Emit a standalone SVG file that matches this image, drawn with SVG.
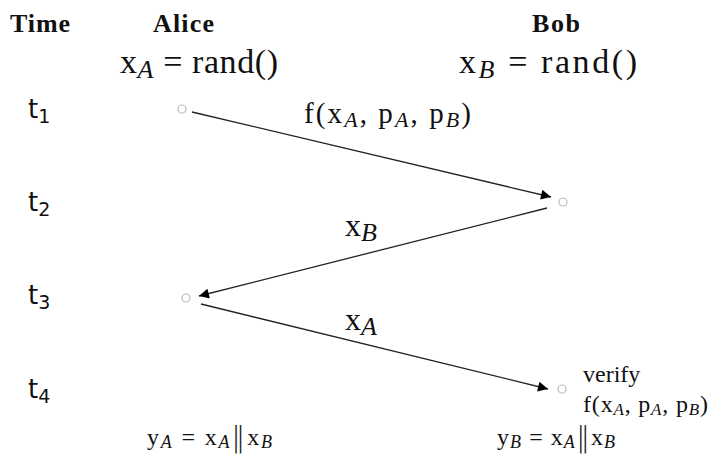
<svg xmlns="http://www.w3.org/2000/svg" width="710" height="457" viewBox="0 0 710 457">
<defs>
<marker id="ah" viewBox="0 0 10 10" refX="10" refY="5" markerWidth="18" markerHeight="10" markerUnits="userSpaceOnUse" orient="auto">
<path d="M0,0 L10,5 L0,10 z" fill="#000"/>
</marker>
</defs>
<style>
text{font-family:"Liberation Serif","Times New Roman",serif;fill:#111}
.hd{font-weight:bold;font-size:26px}
.eq{font-size:34px}
.t{font-family:"DejaVu Sans","Noto Sans",sans-serif;font-size:26px}
.lb{font-size:29px}
.big{font-size:32px}
.sm{font-size:24px}
.sub{font-style:italic}
.bar{font-family:"DejaVu Sans",sans-serif;font-size:28px;font-weight:200}
.node{fill:#fff;stroke:#bbb;stroke-width:1.2}
.conn{stroke:#222;stroke-width:1.3;fill:none;marker-end:url(#ah)}
</style>
<rect width="710" height="457" fill="#fff"/>
<g id="headers">
<text class="hd" x="10" y="32" textLength="60">Time</text>
<text class="hd" x="153" y="32" textLength="61">Alice</text>
<text class="hd" x="532" y="32" textLength="48">Bob</text>
<text class="eq" x="120" y="73" textLength="158">x<tspan class="sub" font-size="26" dy="5">A</tspan><tspan dy="-5"> = rand()</tspan></text>
<text class="eq" x="459" y="73" textLength="178">x<tspan class="sub" font-size="26" dy="5">B</tspan><tspan dy="-5"> = rand()</tspan></text>
</g>
<g id="times">
<text class="t" x="28" y="118">t<tspan font-size="19" dy="5">1</tspan></text>
<text class="t" x="28" y="211">t<tspan font-size="19" dy="5">2</tspan></text>
<text class="t" x="28" y="304">t<tspan font-size="19" dy="5">3</tspan></text>
<text class="t" x="28" y="398">t<tspan font-size="19" dy="5">4</tspan></text>
</g>
<g id="n1"><circle class="node" cx="182" cy="109" r="4"/></g>
<g id="n2"><circle class="node" cx="563" cy="202" r="4"/></g>
<g id="n3"><circle class="node" cx="186" cy="298" r="4"/></g>
<g id="n4"><circle class="node" cx="562" cy="389" r="4"/></g>
<g id="connectors">
<line class="conn" x1="192" y1="112" x2="551" y2="197"/>
<line class="conn" x1="547" y1="208" x2="199" y2="296"/>
<line class="conn" x1="201" y1="304" x2="548" y2="389"/>
</g>
<g id="labels">
<text class="lb" x="304" y="123" textLength="167">f(x<tspan class="sub" font-size="22" dy="4">A</tspan><tspan dy="-4">, p</tspan><tspan class="sub" font-size="22" dy="4">A</tspan><tspan dy="-4">, p</tspan><tspan class="sub" font-size="22" dy="4">B</tspan><tspan dy="-4">)</tspan></text>
<text class="big" x="345" y="236">x<tspan class="sub" font-size="26" dy="5">B</tspan></text>
<text class="big" x="345" y="330">x<tspan class="sub" font-size="26" dy="5">A</tspan></text>
<text class="sm" x="583" y="382">verify</text>
<text class="sm" x="583" y="412" textLength="125">f(x<tspan class="sub" font-size="17" dy="3">A</tspan><tspan dy="-3">, p</tspan><tspan class="sub" font-size="17" dy="3">A</tspan><tspan dy="-3">, p</tspan><tspan class="sub" font-size="17" dy="3">B</tspan><tspan dy="-3">)</tspan></text>
<text class="sm" x="147" y="445" textLength="125">y<tspan class="sub" font-size="18" dy="3">A</tspan><tspan dy="-3"> = x</tspan><tspan class="sub" font-size="18" dy="3">A</tspan><tspan class="bar" dy="-1">‖</tspan><tspan dy="-2">x</tspan><tspan class="sub" font-size="18" dy="3">B</tspan></text>
<text class="sm" x="497" y="445" textLength="118">y<tspan class="sub" font-size="18" dy="3">B</tspan><tspan dy="-3"> = x</tspan><tspan class="sub" font-size="18" dy="3">A</tspan><tspan class="bar" dy="-1">‖</tspan><tspan dy="-2">x</tspan><tspan class="sub" font-size="18" dy="3">B</tspan></text>
</g>
</svg>
